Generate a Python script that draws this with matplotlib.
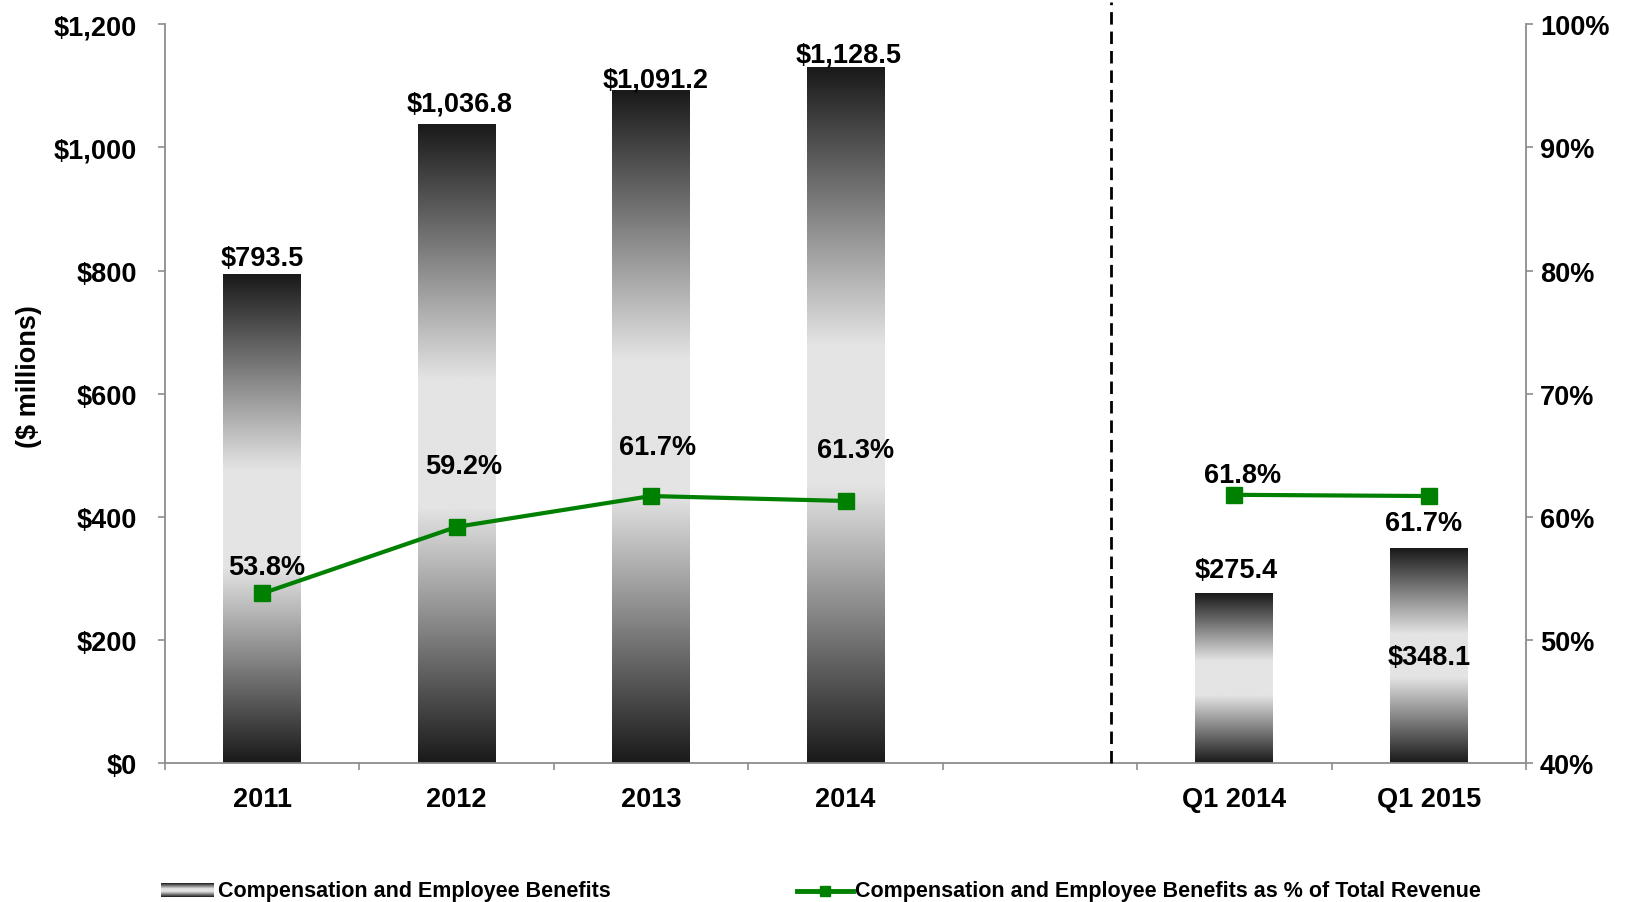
import numpy as np
import matplotlib
matplotlib.use("Agg")
import matplotlib.pyplot as plt
from matplotlib.colors import LinearSegmentedColormap
from matplotlib.lines import Line2D

plt.rcParams['font.family'] = ['Liberation Sans', 'DejaVu Sans']
plt.rcParams['font.weight'] = 'bold'

# ---- data ----
categories = ['2011', '2012', '2013', '2014', '', 'Q1 2014', 'Q1 2015']
comp_benefits = [793.5, 1036.8, 1091.2, 1128.5, np.nan, 275.4, 348.1]
pct_of_revenue = [53.8, 59.2, 61.7, 61.3, np.nan, 61.8, 61.7]
bar_labels = ['$793.5', '$1,036.8', '$1,091.2', '$1,128.5', '', '$275.4', '$348.1']
pct_labels = ['53.8%', '59.2%', '61.7%', '61.3%', '', '61.8%', '61.7%']
left_ticks = [0, 200, 400, 600, 800, 1000, 1200]
right_ticks = [40, 50, 60, 70, 80, 90, 100]

# label offsets in points (dx, dy) relative to bar top / marker
bar_label_offsets = [(0, 12), (2, 15), (3, 8), (2, 10), (0, 0), (1, 17), (0, -78)]
pct_label_offsets = [(3, 19), (5, 44), (5, 35), (7, 37), (0, 0), (6, 14), (-4, -19.5)]

GREEN = '#008000'
AXIS_GRAY = '#8c8c8c'
FS = 19.5

fig = plt.figure(figsize=(16.31, 9.03), dpi=100)
ax = fig.add_axes([0.1012, 0.1534, 0.8344, 0.8189])
ax2 = ax.twinx()

x = np.arange(len(categories))
bar_w = 0.40

# vertical gradient: dark at both ends, light band across the middle
gray_cmap = LinearSegmentedColormap.from_list('bar_gray', ['#1a1a1a', '#e4e4e4'])
t = np.linspace(0, 1, 256)
grad = np.clip((1 - np.abs(2 * t - 1)) / 0.8, 0, 1)[:, None]

for xi, v in zip(x, comp_benefits):
    if np.isnan(v):
        continue
    ax.imshow(grad, extent=[xi - bar_w / 2, xi + bar_w / 2, 0, v], origin='lower',
              aspect='auto', cmap=gray_cmap, vmin=0, vmax=1, zorder=2,
              interpolation='bilinear')

ax.set_xlim(-0.5, len(categories) - 0.5)
ax.set_ylim(0, 1200)
ax2.set_ylim(40, 100)

# bar value labels
for xi, v, lab, (dx, dy) in zip(x, comp_benefits, bar_labels, bar_label_offsets):
    if np.isnan(v):
        continue
    ax.annotate(lab, (xi, v), xytext=(dx, dy), textcoords='offset points',
                ha='center', va='center', fontsize=FS, fontweight='bold', zorder=6)

# percentage line (NaN breaks the line between the two periods)
ax2.plot(x, pct_of_revenue, color=GREEN, linewidth=3, marker='s', markersize=12,
         markerfacecolor=GREEN, markeredgecolor=GREEN, zorder=5)
for xi, v, lab, (dx, dy) in zip(x, pct_of_revenue, pct_labels, pct_label_offsets):
    if np.isnan(v):
        continue
    ax2.annotate(lab, (xi, v), xytext=(dx, dy), textcoords='offset points',
                 ha='center', va='center', fontsize=FS, fontweight='bold', zorder=6)

# dashed separator between annual and quarterly figures
ax.vlines(4.366, 0, 1236, colors='black', linestyles=(0, (4.5, 2.5)),
          linewidth=2, clip_on=False, zorder=4)

# axes styling
for a in (ax, ax2):
    a.spines['top'].set_visible(False)
ax.spines['right'].set_visible(False)
ax2.spines['left'].set_visible(False)
ax2.spines['bottom'].set_visible(False)
for side in ('left', 'bottom'):
    ax.spines[side].set_color(AXIS_GRAY)
    ax.spines[side].set_linewidth(1.3)
ax2.spines['right'].set_color(AXIS_GRAY)
ax2.spines['right'].set_linewidth(1.3)

ax.set_yticks(left_ticks)
ax.set_yticklabels([f'${v:,}' for v in left_ticks])
ax.tick_params(axis='y', direction='out', length=5, width=1.2, color=AXIS_GRAY,
               labelsize=FS, pad=15)
ax2.set_yticks(right_ticks)
ax2.set_yticklabels([f'{v}%' for v in right_ticks])
ax2.tick_params(axis='y', direction='out', length=5, width=1.2, color=AXIS_GRAY,
                labelsize=FS, pad=5)

ax.set_xticks(np.arange(-0.5, len(categories), 1.0))
ax.set_xticklabels([])
ax.tick_params(axis='x', which='major', direction='out', length=5, width=1.2,
               color=AXIS_GRAY)
ax.set_xticks(x, minor=True)
ax.set_xticklabels(categories, minor=True)
ax.tick_params(axis='x', which='minor', length=0, labelsize=FS, pad=16)
for lbl in ax.get_xticklabels(minor=True) + ax.get_yticklabels() + ax2.get_yticklabels():
    lbl.set_fontweight('bold')

fig.text(0.0178, 0.583, '($ millions)', rotation=90, ha='center', va='center',
         fontsize=FS, fontweight='bold')

# legend
LEG_Y = 0.0125
sw = fig.add_axes([0.0987, 0.0055, 0.0319, 0.0155])
sw.imshow(grad, origin='lower', aspect='auto', cmap=gray_cmap, vmin=0, vmax=1,
          extent=[0, 1, 0, 1])
sw.set_axis_off()
fig.text(0.1337, LEG_Y, 'Compensation and Employee Benefits', ha='left', va='center',
         fontsize=15.5, fontweight='bold')
fig.add_artist(Line2D([797 / 1631, 853 / 1631], [LEG_Y, LEG_Y], transform=fig.transFigure,
                      color=GREEN, linewidth=3.5))
fig.add_artist(Line2D([825 / 1631], [LEG_Y], transform=fig.transFigure, color=GREEN,
                      marker='s', markersize=7, linestyle='none'))
fig.text(0.5242, LEG_Y, 'Compensation and Employee Benefits as % of Total Revenue',
         ha='left', va='center', fontsize=15.5, fontweight='bold')

fig.savefig('out.png', dpi=100)
